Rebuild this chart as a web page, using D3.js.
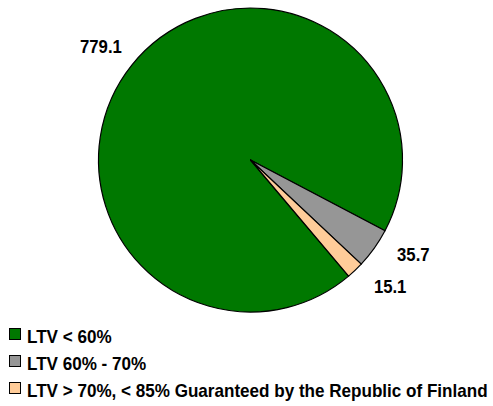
<!DOCTYPE html>
<html>
<head>
<meta charset="utf-8">
<script src="https://cdn.jsdelivr.net/npm/d3@7"></script>
<style>
  html, body { margin: 0; padding: 0; background: #fff; }
  svg { display: block; }
</style>
</head>
<body>
<div id="chart"></div>
<script>
(function () {
  "use strict";

  var categories  = ["LTV < 60%", "LTV 60% - 70%", "LTV > 70%, < 85% Guaranteed by the Republic of Finland"];
  var values      = [779.1, 35.7, 15.1];
  var valueLabels = ["779.1", "35.7", "15.1"];
  var colors      = ["#007800", "#969696", "#FFCC99"];

  var W = 493, H = 406;
  var FONT = "'Liberation Sans Narrow', 'Arial Narrow', 'Liberation Sans', Arial, sans-serif";

  var cx = 250.5, cy = 160, r = 152;
  var labelR = 188;
  var labelShift = [-1.5, -5.5, -4.5];   // degrees, Excel-ish label placement
  var start = 139.8 * Math.PI / 180;

  var svg = d3.select("#chart")
    .append("svg")
      .attr("width", W)
      .attr("height", H)
      .style("font-family", FONT);

  var pie = d3.pie()
    .sort(null)
    .value(function (d) { return d; })
    .startAngle(start)
    .endAngle(start + 2 * Math.PI);

  var arcs = pie(values);

  var arc = d3.arc().innerRadius(0).outerRadius(r);

  var g = svg.append("g")
    .attr("transform", "translate(" + cx + "," + cy + ")");

  g.selectAll("path.slice")
    .data(arcs)
    .enter().append("path")
      .attr("class", "slice")
      .attr("d", arc)
      .attr("fill", function (d, i) { return colors[i]; })
      .attr("stroke", "#000")
      .attr("stroke-width", 1.2)
      .attr("stroke-linejoin", "round");

  // value labels, squeezed a bit to look like Arial Narrow
  g.selectAll("text.val")
    .data(arcs)
    .enter().append("text")
      .attr("class", "val")
      .attr("transform", function (d, i) {
        var a = (d.startAngle + d.endAngle) / 2 + labelShift[i] * Math.PI / 180;
        return "translate(" + (labelR * Math.sin(a)) + "," + (-labelR * Math.cos(a)) + ") scale(0.88,1)";
      })
      .attr("text-anchor", "middle")
      .attr("dy", "0.35em")
      .attr("font-size", "19px")
      .attr("font-weight", "bold")
      .attr("fill", "#000")
      .text(function (d, i) { return valueLabels[i]; });

  // legend
  var legX = 9, legY = 328, rowH = 27, box = 11, textX = 27;
  var leg = svg.append("g");
  var legTexts = [];
  categories.forEach(function (c, i) {
    var y = legY + i * rowH;
    leg.append("rect")
      .attr("x", legX + 0.5).attr("y", y + 0.5)
      .attr("width", box).attr("height", box)
      .attr("fill", colors[i])
      .attr("stroke", "#000")
      .attr("stroke-width", 1);
    legTexts.push(leg.append("text")
      .attr("x", 0)
      .attr("y", 0)
      .attr("data-y", y + 15)
      .attr("font-size", "18px")
      .attr("font-weight", "bold")
      .attr("fill", "#000")
      .text(c).node());
  });
  var longest = d3.max(legTexts, function (n) { return n.getComputedTextLength(); });
  var k = Math.min(1, (W - 5 - textX) / longest);
  legTexts.forEach(function (n) {
    d3.select(n).attr("transform",
      "translate(" + textX + "," + n.getAttribute("data-y") + ") scale(" + k + ",1)");
  });
}());
</script>
</body>
</html>
